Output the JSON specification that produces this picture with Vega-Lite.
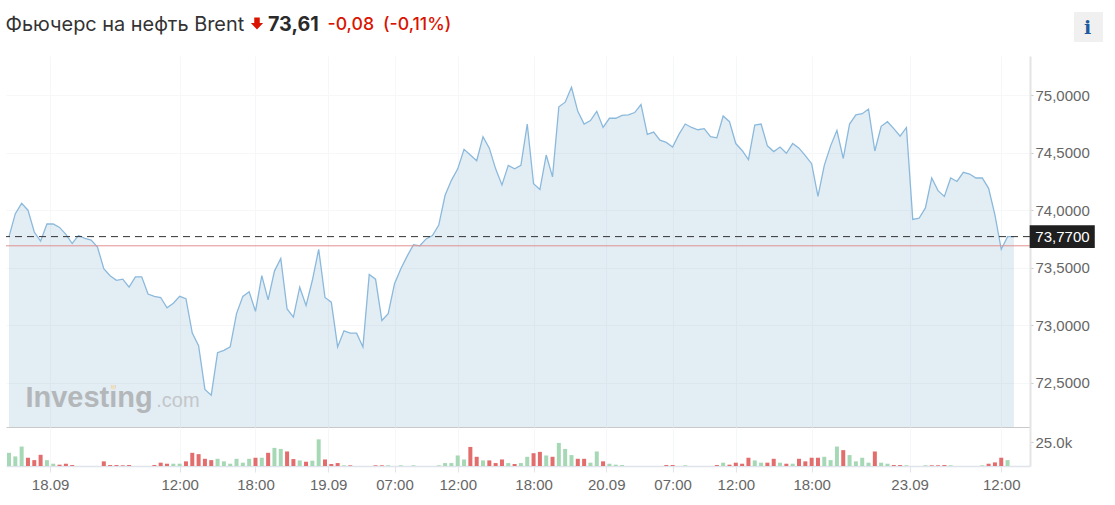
{"$schema":"https://vega.github.io/schema/vega-lite/v6.json","background":"white","padding":{"left":5,"top":0,"right":0,"bottom":0},"autosize":{"type":"pad"},"spacing":0,"config":{"view":{"stroke":null},"concat":{"spacing":0},"axis":{"labelFont":"Liberation Sans","labelFontSize":15,"labelColor":"#666666","title":null,"gridColor":"#f6f7f8","gridWidth":1}},
"datasets":{"main":[
{"i":0,"p":73.77,"v":13.9,"d":"up"},{"i":1,"p":73.97,"v":10.1,"d":"up"},{"i":2,"p":74.06,"v":20.5,"d":"up"},{"i":3,"p":74.0,"v":8.7,"d":"down"},{"i":4,"p":73.81,"v":6.2,"d":"down"},{"i":5,"p":73.73,"v":11.8,"d":"down"},{"i":6,"p":73.88,"v":6.2,"d":"up"},{"i":7,"p":73.88,"v":2.4,"d":"up"},{"i":8,"p":73.85,"v":1.4,"d":"down"},{"i":9,"p":73.79,"v":2.4,"d":"down"},
{"i":10,"p":73.71,"v":1.0,"d":"down"},{"i":11,"p":73.78,"v":0,"d":"up"},{"i":12,"p":73.755,"v":0,"d":"up"},{"i":13,"p":73.74,"v":0,"d":"up"},{"i":14,"p":73.68,"v":0,"d":"up"},{"i":15,"p":73.49,"v":4.9,"d":"down"},{"i":16,"p":73.43,"v":1.0,"d":"down"},{"i":17,"p":73.39,"v":1.0,"d":"down"},{"i":18,"p":73.4,"v":0.7,"d":"down"},{"i":19,"p":73.33,"v":1.0,"d":"down"},
{"i":20,"p":73.42,"v":0,"d":"up"},{"i":21,"p":73.42,"v":0,"d":"up"},{"i":22,"p":73.27,"v":0,"d":"up"},{"i":23,"p":73.25,"v":1.0,"d":"down"},{"i":24,"p":73.24,"v":3.5,"d":"down"},{"i":25,"p":73.15,"v":2.4,"d":"down"},{"i":26,"p":73.19,"v":2.4,"d":"up"},{"i":27,"p":73.25,"v":2.4,"d":"up"},{"i":28,"p":73.23,"v":4.9,"d":"down"},{"i":29,"p":72.93,"v":13.9,"d":"down"},
{"i":30,"p":72.82,"v":12.5,"d":"down"},{"i":31,"p":72.44,"v":7.6,"d":"down"},{"i":32,"p":72.39,"v":6.2,"d":"down"},{"i":33,"p":72.76,"v":7.6,"d":"up"},{"i":34,"p":72.78,"v":4.9,"d":"up"},{"i":35,"p":72.81,"v":2.4,"d":"up"},{"i":36,"p":73.1,"v":7.6,"d":"up"},{"i":37,"p":73.25,"v":3.5,"d":"up"},{"i":38,"p":73.29,"v":7.6,"d":"up"},{"i":39,"p":73.12,"v":8.7,"d":"down"},
{"i":40,"p":73.43,"v":8.7,"d":"up"},{"i":41,"p":73.22,"v":13.9,"d":"down"},{"i":42,"p":73.47,"v":19.1,"d":"up"},{"i":43,"p":73.58,"v":18.0,"d":"up"},{"i":44,"p":73.14,"v":15.3,"d":"down"},{"i":45,"p":73.07,"v":7.3,"d":"down"},{"i":46,"p":73.33,"v":5.9,"d":"up"},{"i":47,"p":73.17,"v":4.5,"d":"down"},{"i":48,"p":73.39,"v":5.6,"d":"up"},{"i":49,"p":73.66,"v":28.1,"d":"up"},
{"i":50,"p":73.24,"v":6.9,"d":"down"},{"i":51,"p":73.2,"v":2.1,"d":"down"},{"i":52,"p":72.81,"v":3.1,"d":"down"},{"i":53,"p":72.95,"v":0.7,"d":"up"},{"i":54,"p":72.93,"v":0.7,"d":"down"},{"i":55,"p":72.93,"v":0,"d":"up"},{"i":56,"p":72.81,"v":0,"d":"up"},{"i":57,"p":73.44,"v":0,"d":"up"},{"i":58,"p":73.4,"v":0.7,"d":"down"},{"i":59,"p":73.04,"v":0.7,"d":"down"},
{"i":60,"p":73.1,"v":0.7,"d":"up"},{"i":61,"p":73.36,"v":0,"d":"up"},{"i":62,"p":73.49,"v":0.7,"d":"up"},{"i":63,"p":73.6,"v":0,"d":"up"},{"i":64,"p":73.7,"v":0.7,"d":"up"},{"i":65,"p":73.69,"v":0,"d":"up"},{"i":66,"p":73.75,"v":0,"d":"up"},{"i":67,"p":73.78,"v":0,"d":"up"},{"i":68,"p":73.87,"v":0.7,"d":"up"},{"i":69,"p":74.13,"v":3.1,"d":"up"},
{"i":70,"p":74.26,"v":3.1,"d":"up"},{"i":71,"p":74.36,"v":11.1,"d":"up"},{"i":72,"p":74.53,"v":6.9,"d":"up"},{"i":73,"p":74.48,"v":20.1,"d":"down"},{"i":74,"p":74.43,"v":9.7,"d":"down"},{"i":75,"p":74.64,"v":5.9,"d":"up"},{"i":76,"p":74.54,"v":5.9,"d":"down"},{"i":77,"p":74.36,"v":3.1,"d":"down"},{"i":78,"p":74.22,"v":6.9,"d":"down"},{"i":79,"p":74.39,"v":3.1,"d":"up"},
{"i":80,"p":74.36,"v":2.1,"d":"down"},{"i":81,"p":74.39,"v":3.1,"d":"up"},{"i":82,"p":74.75,"v":9.7,"d":"up"},{"i":83,"p":74.23,"v":13.5,"d":"down"},{"i":84,"p":74.18,"v":14.9,"d":"down"},{"i":85,"p":74.48,"v":11.1,"d":"up"},{"i":86,"p":74.29,"v":9.7,"d":"down"},{"i":87,"p":74.9,"v":24.3,"d":"up"},{"i":88,"p":74.94,"v":18.0,"d":"up"},{"i":89,"p":75.07,"v":11.5,"d":"up"},
{"i":90,"p":74.86,"v":7.6,"d":"down"},{"i":91,"p":74.75,"v":7.6,"d":"down"},{"i":92,"p":74.78,"v":3.5,"d":"up"},{"i":93,"p":74.86,"v":15.3,"d":"up"},{"i":94,"p":74.72,"v":4.9,"d":"down"},{"i":95,"p":74.8,"v":2.4,"d":"up"},{"i":96,"p":74.8,"v":1.4,"d":"up"},{"i":97,"p":74.825,"v":1.0,"d":"up"},{"i":98,"p":74.83,"v":0,"d":"up"},{"i":99,"p":74.85,"v":0,"d":"up"},
{"i":100,"p":74.92,"v":0,"d":"up"},{"i":101,"p":74.66,"v":0,"d":"up"},{"i":102,"p":74.68,"v":0,"d":"up"},{"i":103,"p":74.61,"v":0,"d":"up"},{"i":104,"p":74.59,"v":1.0,"d":"down"},{"i":105,"p":74.55,"v":1.0,"d":"down"},{"i":106,"p":74.66,"v":0,"d":"up"},{"i":107,"p":74.75,"v":0.7,"d":"up"},{"i":108,"p":74.72,"v":0,"d":"up"},{"i":109,"p":74.7,"v":0,"d":"up"},
{"i":110,"p":74.71,"v":0,"d":"up"},{"i":111,"p":74.64,"v":0,"d":"up"},{"i":112,"p":74.63,"v":1.0,"d":"down"},{"i":113,"p":74.82,"v":3.5,"d":"up"},{"i":114,"p":74.77,"v":1.4,"d":"down"},{"i":115,"p":74.58,"v":3.5,"d":"down"},{"i":116,"p":74.52,"v":2.4,"d":"down"},{"i":117,"p":74.44,"v":8.7,"d":"down"},{"i":118,"p":74.74,"v":5.9,"d":"up"},{"i":119,"p":74.75,"v":3.5,"d":"up"},
{"i":120,"p":74.56,"v":3.5,"d":"down"},{"i":121,"p":74.51,"v":7.6,"d":"down"},{"i":122,"p":74.55,"v":3.5,"d":"up"},{"i":123,"p":74.495,"v":2.4,"d":"down"},{"i":124,"p":74.58,"v":2.4,"d":"up"},{"i":125,"p":74.54,"v":7.6,"d":"down"},{"i":126,"p":74.475,"v":4.9,"d":"down"},{"i":127,"p":74.405,"v":8.7,"d":"down"},{"i":128,"p":74.12,"v":8.7,"d":"down"},{"i":129,"p":74.39,"v":9.7,"d":"up"},
{"i":130,"p":74.56,"v":6.2,"d":"up"},{"i":131,"p":74.695,"v":20.5,"d":"up"},{"i":132,"p":74.45,"v":16.7,"d":"down"},{"i":133,"p":74.75,"v":11.5,"d":"up"},{"i":134,"p":74.83,"v":4.9,"d":"up"},{"i":135,"p":74.84,"v":8.7,"d":"up"},{"i":136,"p":74.88,"v":3.5,"d":"up"},{"i":137,"p":74.515,"v":15.3,"d":"down"},{"i":138,"p":74.73,"v":3.5,"d":"up"},{"i":139,"p":74.77,"v":2.4,"d":"up"},
{"i":140,"p":74.71,"v":1.0,"d":"down"},{"i":141,"p":74.645,"v":1.0,"d":"down"},{"i":142,"p":74.72,"v":0.7,"d":"up"},{"i":143,"p":73.92,"v":0,"d":"up"},{"i":144,"p":73.93,"v":0,"d":"up"},{"i":145,"p":74.02,"v":0.7,"d":"up"},{"i":146,"p":74.28,"v":0.7,"d":"down"},{"i":147,"p":74.17,"v":0.7,"d":"down"},{"i":148,"p":74.12,"v":1.0,"d":"down"},{"i":149,"p":74.28,"v":0.7,"d":"up"},
{"i":150,"p":74.25,"v":0,"d":"up"},{"i":151,"p":74.33,"v":0,"d":"up"},{"i":152,"p":74.315,"v":0,"d":"up"},{"i":153,"p":74.28,"v":0,"d":"up"},{"i":154,"p":74.28,"v":0.7,"d":"up"},{"i":155,"p":74.19,"v":2.4,"d":"down"},{"i":156,"p":73.96,"v":3.8,"d":"down"},{"i":157,"p":73.66,"v":8.7,"d":"down"},{"i":158,"p":73.77,"v":6.2,"d":"up"},{"i":159,"p":73.77,"v":0,"d":"up"}
]},
"vconcat":[
{"width":1024,"height":56,"data":{"values":[{"t":"Фьючерс на нефть Brent","x":4.5,"y":30.5,"c":"name"},{"t":"73,61","x":267,"y":31,"c":"price"},{"t":"-0,08","x":326.5,"y":30,"c":"chg"},{"t":"(-0,11%)","x":382,"y":30,"c":"chg"}]},
"resolve":{"scale":{"x":"independent","y":"independent"}},
"layer":[
{"data":{"values":[{"x":1073,"x2":1102,"y":12,"y2":42}]},"mark":{"type":"rect","color":"#f0f0f0","clip":false},"encoding":{"x":{"field":"x","type":"quantitative","scale":{"domain":[5,1029]},"axis":null},"x2":{"field":"x2"},"y":{"field":"y","type":"quantitative","scale":{"domain":[56,0]},"axis":null},"y2":{"field":"y2"}}},
{"data":{"values":[{"x":1086.5,"y":34,"t":"i"}]},"mark":{"type":"text","font":"DejaVu Serif","fontWeight":"bold","fontSize":19,"color":"#1f5a9e","align":"center","baseline":"alphabetic"},"encoding":{"x":{"field":"x","type":"quantitative","scale":{"domain":[5,1029]},"axis":null},"y":{"field":"y","type":"quantitative","scale":{"domain":[56,0]},"axis":null},"text":{"field":"t"}}},
{"data":{"values":[{"x":256,"y":23.5}]},"mark":{"type":"point","shape":"M-0.45,-1 L0.45,-1 L0.45,-0.1 L1,-0.1 L0,1 L-1,-0.1 L-0.45,-0.1 Z","filled":true,"size":150,"color":"#d91400","opacity":1},"encoding":{"x":{"field":"x","type":"quantitative","scale":{"domain":[5,1029]},"axis":null},"y":{"field":"y","type":"quantitative","scale":{"domain":[56,0]},"axis":null}}},
{"transform":[{"filter":"datum.c=='name'"}],"mark":{"type":"text","font":"Inter","fontSize":19.9,"color":"#333333","align":"left","baseline":"alphabetic"},"encoding":{"x":{"field":"x","type":"quantitative","scale":{"domain":[5,1029]},"axis":null},"y":{"field":"y","type":"quantitative","scale":{"domain":[56,0]},"axis":null},"text":{"field":"t"}}},
{"transform":[{"filter":"datum.c=='price'"}],"mark":{"type":"text","font":"Inter","fontSize":19.7,"fontWeight":"bold","color":"#2a2a2a","align":"left","baseline":"alphabetic"},"encoding":{"x":{"field":"x","type":"quantitative","scale":{"domain":[5,1029]},"axis":null},"y":{"field":"y","type":"quantitative","scale":{"domain":[56,0]},"axis":null},"text":{"field":"t"}}},
{"transform":[{"filter":"datum.c=='chg'"}],"mark":{"type":"text","font":"Inter","fontSize":17.7,"fontWeight":500,"color":"#d91400","align":"left","baseline":"alphabetic"},"encoding":{"x":{"field":"x","type":"quantitative","scale":{"domain":[5,1029]},"axis":null},"y":{"field":"y","type":"quantitative","scale":{"domain":[56,0]},"axis":null},"text":{"field":"t"}}}
]},
{"width":1024,"height":371,"layer":[
{"data":{"name":"main"},"mark":{"type":"area","color":"#5b93c0","opacity":0.17},"encoding":{
"x":{"field":"i","type":"quantitative","scale":{"domain":[-0.475,161.55],"nice":false,"zero":false},"axis":{"orient":"bottom","values":[6.5,27,39,50.5,61,71,83,94.5,105,115,127,142.5,157],"labels":false,"ticks":false,"domain":true,"domainColor":"#c9c9c9","domainWidth":1,"grid":true}},
"y":{"field":"p","type":"quantitative","scale":{"domain":[72.113,75.342],"nice":false,"zero":false},"axis":{"orient":"right","values":[72.5,73,73.5,74,74.5,75],"labelExpr":"replace(format(datum.value,'.4f'),'.',',')","grid":true,"tickSize":3,"tickColor":"#cccccc","labelPadding":2,"domainColor":"#e4e4e4","domainWidth":2}},
"y2":{"datum":72.113}}},
{"data":{"name":"main"},"mark":{"type":"line","color":"#8bb9dc","strokeWidth":1.3},"encoding":{"x":{"field":"i","type":"quantitative"},"y":{"field":"p","type":"quantitative"}}},
{"data":{"values":[{"p":73.69}]},"mark":{"type":"rule","color":"#e09090","strokeWidth":1},"encoding":{"y":{"field":"p","type":"quantitative"}}},
{"data":{"values":[{"p":73.77}]},"mark":{"type":"rule","color":"#333333","strokeWidth":1,"strokeDash":[7,5]},"encoding":{"y":{"field":"p","type":"quantitative"}}},
{"data":{"values":[{"a":161.5,"b":171.8,"u":73.87,"l":73.672}]},"mark":{"type":"rect","color":"#1f1f1f","clip":false},"encoding":{"x":{"field":"a","type":"quantitative"},"x2":{"field":"b"},"y":{"field":"u","type":"quantitative"},"y2":{"field":"l"}}},
{"data":{"values":[{"a":162.4,"p":73.77,"t":"73,7700"}]},"mark":{"type":"text","font":"Liberation Sans","fontSize":15,"color":"#ffffff","align":"left","baseline":"middle"},"encoding":{"x":{"field":"a","type":"quantitative"},"y":{"field":"p","type":"quantitative"},"text":{"field":"t"}}},
{"data":{"values":[{"a":2.6,"p":72.287,"t":"Investing"}]},"mark":{"type":"text","font":"Liberation Sans","fontWeight":"bold","fontSize":29,"color":"#b3b7ba","align":"left","baseline":"alphabetic"},"encoding":{"x":{"field":"a","type":"quantitative"},"y":{"field":"p","type":"quantitative"},"text":{"field":"t"}}},
{"data":{"values":[{"a":23.3,"p":72.287,"t":".com"}]},"mark":{"type":"text","font":"Liberation Sans","fontSize":20,"color":"#c3c7ca","align":"left","baseline":"alphabetic"},"encoding":{"x":{"field":"a","type":"quantitative"},"y":{"field":"p","type":"quantitative"},"text":{"field":"t"}}},
{"data":{"values":[{"a":16.5,"p":72.46}]},"mark":{"type":"point","shape":"square","filled":true,"size":18,"color":"#f0dfc0","opacity":1},"encoding":{"x":{"field":"a","type":"quantitative"},"y":{"field":"p","type":"quantitative"}}}
]},
{"width":1024,"height":39,"data":{"name":"main"},"mark":{"type":"bar","size":4},"encoding":{
"x":{"field":"i","type":"quantitative","scale":{"domain":[-0.475,161.55],"nice":false,"zero":false,"padding":0},"axis":{"orient":"bottom","values":[6.5,27,39,50.5,61,71,83,94.5,105,115,127,142.5,157],"labelExpr":"{'6.5':'18.09','27':'12:00','39':'18:00','50.5':'19.09','61':'07:00','71':'12:00','83':'18:00','94.5':'20.09','105':'07:00','115':'12:00','127':'18:00','142.5':'23.09','157':'12:00'}[''+datum.value]","grid":true,"tickSize":6,"tickColor":"#e2e4e8","domainColor":"#dfe3ec","domainWidth":1.5,"labelPadding":5,"labelOverlap":false,"labelFlush":false}},
"y":{"field":"v","type":"quantitative","scale":{"domain":[0,41.1],"nice":false},"axis":{"orient":"right","values":[25],"labelExpr":"'25.0k'","grid":false,"tickSize":3,"tickColor":"#cccccc","labelPadding":2,"domainColor":"#e4e4e4","domainWidth":2}},
"color":{"field":"d","type":"nominal","scale":{"domain":["up","down"],"range":["#a7d8b5","#e36c6c"]},"legend":null}}}
]}
